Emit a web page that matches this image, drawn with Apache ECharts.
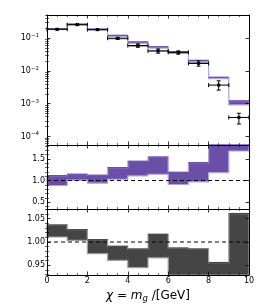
<!DOCTYPE html>
<html><head><meta charset="utf-8">
<script src="https://cdn.jsdelivr.net/npm/echarts@6/dist/echarts.min.js"></script>
<style>html,body{margin:0;padding:0;background:#fff}#c{width:262px;height:306px}</style>
</head><body><div id="c"></div>
<script>
// ---- data ----
const binEdges = [0,1,2,3,4,5,6,7,8,9,10];
const dataY  = [0.188,0.26,0.183,0.100,0.060,0.041,0.037,0.017,0.0037,0.00038];
const dataLo = [0.178,0.25,0.175,0.093,0.053,0.035,0.0325,0.014,0.0026,0.00024];
const dataHi = [0.198,0.27,0.191,0.105,0.067,0.047,0.041,0.0204,0.0050,0.00051];
const purpleLo = [0.185,0.255,0.180,0.112,0.070,0.050,0.036,0.019,0.0058,0.00092];
const purpleHi = [0.195,0.270,0.190,0.122,0.077,0.055,0.039,0.021,0.0064,0.00122];
const grayLo = [0.186,0.255,0.178,0.096,0.057,0.040,0.0345,0.0167,null,null];
const grayHi = [0.194,0.268,0.188,0.099,0.059,0.042,0.036,0.0185,null,null];
const purpleRatioLo = [0.885,1.008,0.938,1.03,1.108,1.146,0.908,0.97,1.185,1.685];
const purpleRatioHi = [1.115,1.146,1.123,1.30,1.446,1.546,1.19,1.415,1.9,1.9];
const grayRatioLo = [1.0107,1.0036,0.975,0.9607,0.945,0.966,0.92,0.92,0.92,0.92];
const grayRatioHi = [1.0364,1.0264,1.005,0.9907,0.985,1.0164,0.987,0.985,0.956,1.061];
const xTicks = [0,2,4,6,8,10];
const ratioTicks = [0.5,1.0,1.5];
const ratioMinor = [0.4,0.6,0.7,0.8,0.9,1.1,1.2,1.3,1.4,1.6,1.7,1.8];
const ratio2Ticks = [0.95,1.00,1.05];
const ratio2Minor = [0.93,0.94,0.96,0.97,0.98,0.99,1.01,1.02,1.03,1.04,1.06,1.07];
const logMinor = [];
for (let k=-5;k<=-1;k++) for (let m=2;m<=9;m++) logMinor.push(+(m*Math.pow(10,k)).toPrecision(3));

// ---- layout ----
const FONT = 'DejaVu Sans';
const ranges = [[5.47e-5,0.513],[0.34,1.824],[0.9293,1.0707]];
const grids = [
  {left:47,right:13,top:15,height:130},
  {left:47,right:13,top:145,height:64},
  {left:47,right:13,top:209,height:66}
];
grids.forEach(g=>{g.outerBoundsMode='none';g.containLabel=false;});

const xAxes=[], yAxes=[];
for (let gi=0; gi<3; gi++){
  ['bottom','top'].forEach(pos=>{
    const lab = (gi===2 && pos==='bottom');
    const ax = {type:'value', gridIndex:gi, position:pos, min:0, max:10, interval:2, z:10,
      axisLine:{show:true, onZero:false, lineStyle:{color:'#000',width:1}},
      splitLine:{show:false},
      axisTick:{show:true, inside:true, length:3.5, lineStyle:{color:'#000',width:0.8}},
      minorTick:{show:true, splitNumber:4, length:2, lineStyle:{color:'#000',width:0.6}},
      axisLabel:{show:lab, margin:2, fontSize:8, color:'#000', fontFamily:FONT, customValues:xTicks, formatter:v=>String(v)}
    };
    if (lab){
      ax.name='{i|χ} = {i|m}{sub|g} /[GeV]';
      ax.nameLocation='middle'; ax.nameGap=13;
      ax.nameTextStyle={fontSize:12, color:'#000', fontFamily:FONT,
        rich:{i:{fontSize:12,fontStyle:'italic',fontFamily:FONT,color:'#000'},
              sub:{fontSize:8.5,fontStyle:'italic',fontFamily:FONT,color:'#000',padding:[6,0,0,0]}}};
    }
    xAxes.push(ax);
  });
  ['left','right'].forEach(pos=>{
    const lab = pos==='left';
    const ax = {gridIndex:gi, position:pos, min:ranges[gi][0], max:ranges[gi][1], z:10,
      axisLine:{show:true, onZero:false, lineStyle:{color:'#000',width:1}},
      splitLine:{show:false},
      axisTick:{show:true, inside:true, length:3.5, lineStyle:{color:'#000',width:0.8}},
      axisLabel:{show:lab, fontSize:8, color:'#000', fontFamily:FONT}
    };
    if (gi===0){
      ax.type='log'; ax.logBase=10;
      ax.axisLabel.margin=8;
      ax.axisLabel.showMinLabel=false; ax.axisLabel.showMaxLabel=false;
      ax.axisLabel.formatter=v=>{const e=Math.round(Math.log10(v)); return '{b|10}{s|'+(e<0?'\u2212':'')+Math.abs(e)+'}';};
      ax.axisLabel.rich={b:{fontSize:8,fontFamily:FONT,color:'#000'},s:{fontSize:5.5,fontFamily:FONT,color:'#000',padding:[0,0,5,0]}};
    } else {
      const t = gi===1 ? ratioTicks : ratio2Ticks;
      ax.type='value';
      ax.axisTick.customValues=t;
      ax.axisLabel.customValues=t;
      ax.axisLabel.margin=2;
      ax.axisLabel.formatter = gi===1 ? (v=>v.toFixed(1)) : (v=>v.toFixed(2));
    }
    yAxes.push(ax);
  });
  ['left','right'].forEach(pos=>{
    const minors = gi===0 ? logMinor : (gi===1 ? ratioMinor : ratio2Minor);
    yAxes.push({type: gi===0?'log':'value', logBase:10, gridIndex:gi, position:pos,
      min:ranges[gi][0], max:ranges[gi][1], z:10,
      axisLine:{show:false}, splitLine:{show:false}, axisLabel:{show:false},
      axisTick:{show:true, inside:true, length:2, customValues:minors, lineStyle:{color:'#000',width:0.6}}
    });
  });
}

function makeBand(gi, lo, hi, fill, edge){
  return {type:'custom', xAxisIndex:gi*2, yAxisIndex:gi*4, z:2, silent:true,
    data:[[binEdges[0], hi[0]]], encode:{x:0,y:1},
    renderItem:function(params, api){
      const cs = params.coordSys;
      const cy = p => [p[0], Math.max(cs.y, Math.min(cs.y+cs.height, p[1]))];
      const top=[], bot=[];
      for (let i=0;i<hi.length;i++){
        top.push(cy(api.coord([binEdges[i],hi[i]])), cy(api.coord([binEdges[i+1],hi[i]])));
      }
      for (let i=lo.length-1;i>=0;i--){
        bot.push(cy(api.coord([binEdges[i+1],lo[i]])), cy(api.coord([binEdges[i],lo[i]])));
      }
      const children=[{type:'polygon', shape:{points:top.concat(bot)}, style:{fill:fill, stroke:edge, lineWidth:1.2}}];
      for (let i=0;i<hi.length;i++){
        const a=top[2*i], b=top[2*i+1];
        children.push({type:'line', shape:{x1:a[0],y1:a[1],x2:b[0],y2:b[1]}, style:{stroke:fill,lineWidth:1.2}});
      }
      return {type:'group', children:children};
    }
  };
}

function makeRects(gi, lo, hi, fill){
  return {type:'custom', xAxisIndex:gi*2, yAxisIndex:gi*4, z:3, silent:true,
    data: lo.map((v,i)=>[binEdges[i], binEdges[i+1], v, hi[i]]).filter(d=>d[2]!=null),
    encode:{x:0,y:3},
    renderItem:function(params, api){
      const a=api.coord([api.value(0), api.value(3)]);
      const b=api.coord([api.value(1), api.value(2)]);
      return {type:'rect', shape:{x:a[0], y:a[1], width:b[0]-a[0], height:Math.max(1,b[1]-a[1])},
        style:{fill:fill}};
    }
  };
}

function dashed(gi){
  return {type:'line', xAxisIndex:gi*2, yAxisIndex:gi*4, z:6, silent:true, symbol:'none',
    data:[[0,1],[10,1]], lineStyle:{color:'#000', width:1, type:[4,3]}};
}

const errSeries = {type:'custom', xAxisIndex:0, yAxisIndex:0, z:5, silent:true,
  data: dataY.map((y,i)=>[(binEdges[i]+binEdges[i+1])/2, y, binEdges[i], binEdges[i+1], dataLo[i], dataHi[i]]),
  encode:{x:0,y:1},
  renderItem:function(params, api){
    const y=api.value(1), xc=api.value(0);
    const c=api.coord([xc,y]), l=api.coord([api.value(2),y]), r=api.coord([api.value(3),y]);
    const lo=api.coord([xc,api.value(4)]), hi=api.coord([xc,api.value(5)]);
    const st={stroke:'#000',lineWidth:1};
    const cap=2;
    const ln=(p,q)=>({type:'line', shape:{x1:p[0],y1:p[1],x2:q[0],y2:q[1]}, style:st});
    return {type:'group', children:[
      ln(l,r), ln([l[0],l[1]-cap],[l[0],l[1]+cap]), ln([r[0],r[1]-cap],[r[0],r[1]+cap]),
      ln(lo,hi), ln([hi[0]-cap,hi[1]],[hi[0]+cap,hi[1]]), ln([lo[0]-cap,lo[1]],[lo[0]+cap,lo[1]]),
      {type:'rect', shape:{x:c[0]-1.5,y:c[1]-1.5,width:3,height:3}, style:{fill:'#000'}}
    ]};
  }
};

const option = {
  animation:false,
  backgroundColor:'#fff',
  grid:grids, xAxis:xAxes, yAxis:yAxes,
  series:[
    makeBand(0, purpleLo, purpleHi, '#6a4fa8', '#b3a4e0'),
    makeRects(0, grayLo, grayHi, '#8a8a8a'),
    errSeries,
    makeBand(1, purpleRatioLo, purpleRatioHi, '#6a4fa8', '#b3a4e0'),
    dashed(1),
    makeBand(2, grayRatioLo, grayRatioHi, '#454545', '#a0a0a0'),
    dashed(2)
  ]
};
const chart = echarts.init(document.getElementById('c'), null, {renderer:'canvas'});
chart.setOption(option);
</script></body></html>
